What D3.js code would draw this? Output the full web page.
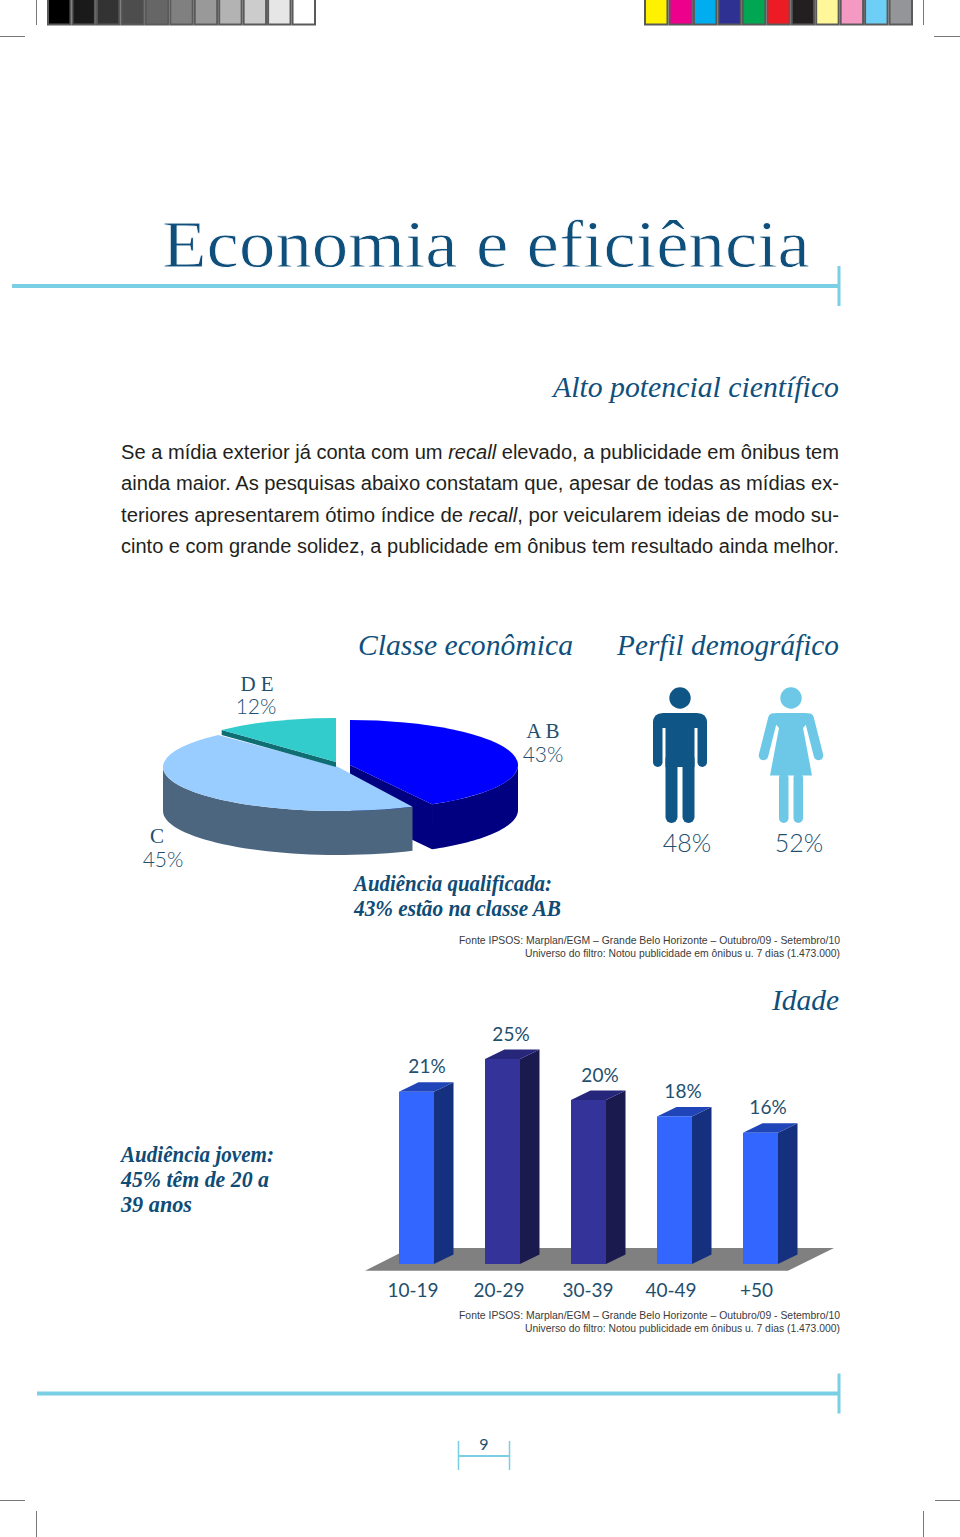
<!DOCTYPE html>
<html lang="pt">
<head>
<meta charset="utf-8">
<title>Economia e eficiência</title>
<script src="https://cdn.jsdelivr.net/npm/d3@7/dist/d3.min.js"></script>
<style>
html,body{margin:0;padding:0;background:#fff}
svg{display:block}
</style>
</head>
<body>
<svg id="chart" width="960" height="1537" viewBox="0 0 960 1537"></svg>
<script>
// ---- data ----
const pieCategories = ["A B", "C", "D E"];
const pieValues = [43, 45, 12];
const genderLabels = ["Masculino", "Feminino"];
const genderValues = [48, 52];
const ageCategories = ["10-19", "20-29", "30-39", "40-49", "+50"];
const ageValues = [21, 25, 20, 18, 16];
const grayBar = ["#000000","#1a1a1a","#333333","#4d4d4d","#666666","#808080","#999999","#b3b3b3","#cccccc","#e6e6e6","#ffffff"];
const colorBar = ["#fff200","#ec008c","#00aeef","#2e3192","#00a651","#ed1c24","#231f20","#fff799","#f49ac2","#6dcff6","#939598"];

const INK = "#0f4f7c", SOFT = "#234f6e", RULE = "#7bcfe4";
const svg = d3.select("#chart");
const SERIF = "'Liberation Serif', serif", SANS = "'Liberation Sans', Arial, sans-serif", HUMAN = "Lato, sans-serif";

function label(str, x, y, o = {}) {
  const t = svg.append("text").attr("x", x).attr("y", y)
    .attr("font-family", o.family || SERIF).attr("font-size", o.size || 20)
    .attr("fill", o.fill || INK).attr("text-anchor", o.anchor || "start");
  if (o.style) t.attr("font-style", o.style);
  if (o.weight) t.attr("font-weight", o.weight);
  if (o.width) t.attr("textLength", o.width).attr("lengthAdjust", "spacingAndGlyphs");
  if (o.thin) t.attr("stroke", "#fff").attr("stroke-width", o.thin);
  t.text(str);
  return t;
}

// ---- printer marks ----
function swatches(values, x0, x1) {
  const b = d3.scaleBand().domain(d3.range(values.length)).range([x0, x1]);
  svg.append("g").selectAll("rect").data(values).join("rect")
    .attr("x", (d, i) => b(i) + 1).attr("y", -2)
    .attr("width", b.bandwidth() - 2).attr("height", 26.5)
    .attr("fill", d => d).attr("stroke", "#5a5a5a").attr("stroke-width", 2);
}
swatches(grayBar, 47, 316);
swatches(colorBar, 644, 913);
[[36.5,0,36.5,25],[0,36.5,25,36.5],[923.5,0,923.5,25],[934,36.5,960,36.5],
 [0,1500.5,25,1500.5],[935,1500.5,960,1500.5],[36.5,1511,36.5,1537],[923.5,1511,923.5,1537]]
 .forEach(l => svg.append("line").attr("x1",l[0]).attr("y1",l[1]).attr("x2",l[2]).attr("y2",l[3]).attr("stroke","#777").attr("stroke-width",1));

// ---- rules ----
function rule(x0, y) {
  svg.append("rect").attr("x", x0).attr("y", y - 2).attr("width", 838 - x0).attr("height", 4).attr("fill", RULE);
  svg.append("rect").attr("x", 837.5).attr("y", y - 20).attr("width", 3).attr("height", 40).attr("fill", RULE);
}
rule(12, 286);
rule(37, 1393.5);

// ---- headings and copy ----
label("Economia e eficiência", 162, 267, {size: 68, width: 648, fill: INK, thin: 0.8});
label("Alto potencial científico", 553, 397, {size: 30, style: "italic", width: 286});
label("Classe econômica", 358, 655, {size: 30, style: "italic", width: 215});
label("Perfil demográfico", 617, 655, {size: 30, style: "italic", width: 222});
label("Idade", 772, 1010, {size: 30, style: "italic", width: 67});

const bodyLines = [
  {y: 459, parts: [["Se a mídia exterior já conta com um ",0],["recall",1],[" elevado, a publicidade em ônibus tem",0]]},
  {y: 490, parts: [["ainda maior. As pesquisas abaixo constatam que, apesar de todas as mídias ex-",0]]},
  {y: 522, parts: [["teriores apresentarem ótimo índice de ",0],["recall",1],[", por veicularem ideias de modo su-",0]]},
  {y: 553, parts: [["cinto e com grande solidez, a publicidade em ônibus tem resultado ainda melhor.",0]]}
];
bodyLines.forEach(l => {
  const t = svg.append("text").attr("x", 121).attr("y", l.y)
    .attr("font-family", SANS).attr("font-size", 20).attr("fill", "#231f20")
    .attr("textLength", 718).attr("lengthAdjust", "spacingAndGlyphs").style("white-space","pre");
  l.parts.forEach(p => t.append("tspan").attr("font-style", p[1] ? "italic" : null).text(p[0]));
});

// ---- 3D pie ----
const pieSlices = d3.pie().sort(null)(pieValues);
const sliceGeom = [
  {cx: 350, cy: 765, rx: 168, ry: 45, depth: 45, fill: "#0000ff", wall: "#000080", skew: 0.974},
  {cx: 338, cy: 767, rx: 175, ry: 44, depth: 44, fill: "#99ccff", wall: "#4d6680", skew: 1},
  {cx: 336, cy: 762, rx: 167, ry: 44, depth: 5,  fill: "#33cccc", wall: "#0f6e73", skew: 1}
];
const pieArc = d3.arc().innerRadius(0);
const pt = (g, a, dy = 0) => [g.cx + g.rx * Math.sin(a), g.cy - g.ry * Math.cos(a) + dy];
function drawWall(g, a0, a1) {
  const as = d3.range(0, 41).map(i => a0 + (a1 - a0) * i / 40);
  const pts = as.map(a => pt(g, a)).concat(as.slice().reverse().map(a => pt(g, a, g.depth)));
  svg.append("path").attr("d", d3.line()(pts) + "Z").attr("fill", g.wall);
}
function drawFace(g, s) {
  svg.append("path").attr("d", pieArc.outerRadius(g.rx)(s))
    .attr("transform", `translate(${g.cx},${g.cy}) scale(1,${g.ry / g.rx})`).attr("fill", g.fill);
}
// A B: foreshortened slightly, as the 3D view does
{
  const g = sliceGeom[0], s = {...pieSlices[0], endAngle: pieSlices[0].endAngle * g.skew};
  drawWall(g, Math.PI / 2, s.endAngle);
  const tip = pt(g, s.endAngle);
  svg.append("path").attr("d", d3.line()([[g.cx,g.cy],tip,[tip[0],tip[1]+g.depth],[g.cx,g.cy+g.depth]]) + "Z").attr("fill", g.wall);
  drawFace(g, s);
}
// C
{
  const s = pieSlices[1], g = sliceGeom[1];
  drawWall(g, s.startAngle, 3 * Math.PI / 2);
  drawFace(g, s);
}
// D E
{
  const s = pieSlices[2], g = sliceGeom[2];
  const e = pt(g, s.startAngle);
  svg.append("path").attr("d", d3.line()([e,[g.cx,g.cy],[g.cx,g.cy+g.depth],[e[0],e[1]+5]]) + "Z").attr("fill", g.wall);
  drawFace(g, s);
}
const pieLabelPos = [[543,738,543,762],[157,843,163,867],[257,691,256,714]];
pieCategories.forEach((c, i) => {
  const p = pieLabelPos[i];
  label(c, p[0], p[1], {size: 21, anchor: "middle", fill: SOFT});
  label(pieValues[i] + "%", p[2], p[3], {size: 21, anchor: "middle", family: HUMAN, weight: 300, fill: SOFT});
});

// ---- gender pictograms ----
const man = svg.append("g").attr("transform", "translate(680,713)").attr("fill", "#0f5686");
man.append("circle").attr("cy", -15).attr("r", 10.7);
man.append("path").attr("d", "M-27,15V10Q-27,0 -17,0H17Q27,0 27,10V15Z");
[[-27,5,9.5,49,4.7],[17.5,5,9.5,49,4.7],[-14.5,0,29,54,0],[-14.5,40,12,70,6],[2.5,40,12,70,6]]
  .forEach(r => man.append("rect").attr("x",r[0]).attr("y",r[1]).attr("width",r[2]).attr("height",r[3]).attr("rx",r[4]));
const woman = svg.append("g").attr("transform", "translate(791,713)").attr("fill", "#6cc8e6");
woman.append("circle").attr("cy", -15).attr("r", 10.7);
woman.append("path").attr("d", "M-14,0H14Q19,0 21,5L12,15L21,62.5H-21L-12,15L-21,5Q-19,0 -14,0Z");
[-1,1].forEach(k => woman.append("line").attr("x1",k*18).attr("y1",5).attr("x2",k*27.5).attr("y2",42.5)
  .attr("stroke","#6cc8e6").attr("stroke-width",9.5).attr("stroke-linecap","round"));
[[-12,60,9.5,50,4.7],[2.5,60,9.5,50,4.7]].forEach(r => woman.append("rect").attr("x",r[0]).attr("y",r[1]).attr("width",r[2]).attr("height",r[3]).attr("rx",r[4]));
const genderX = d3.scalePoint().domain(genderLabels).range([687, 799]);
genderLabels.forEach((g, i) => label(genderValues[i] + "%", genderX(g), 852, {size: 25, anchor: "middle", family: HUMAN, weight: 300, fill: SOFT}));

// ---- callouts ----
const callout = {size: 24, style: "italic", weight: 700, fill: "#0f4c75"};
label("Audiência qualificada:", 354, 891, {...callout, width: 198});
label("43% estão na classe AB", 354, 916, {...callout, width: 207});
label("Audiência jovem:", 121, 1162, {...callout, width: 153});
label("45% têm de 20 a", 121, 1187, {...callout, width: 148});
label("39 anos", 121, 1212, {...callout, width: 71});

// ---- source notes ----
[[944,957],[1319,1332]].forEach(([a, b]) => {
  label("Fonte IPSOS: Marplan/EGM – Grande Belo Horizonte – Outubro/09 - Setembro/10", 459, a, {family: SANS, size: 11, fill: "#3a3a3a", width: 381});
  label("Universo do filtro: Notou publicidade em ônibus u. 7 dias (1.473.000)", 525, b, {family: SANS, size: 11, fill: "#3a3a3a", width: 315});
});

// ---- 3D bars ----
const x = d3.scaleBand().domain(ageCategories).range([399, 778]).paddingInner(1 - 35 / 86);
const y = d3.scaleLinear().domain([0, 25]).range([1264, 1059]);
const bw = x.bandwidth(), dx = 19.5, dy = -9.5;
const barSkin = {light: {front: "#3366ff", side: "#15307f", face: "#2045b8"}, dark: {front: "#333399", side: "#1a1a4f", face: "#26267a"}};
const barTone = ["light", "dark", "dark", "light", "light"];
const valueNudge = [10.5, 8.5, 11.5, 8.5, 7.5];
svg.append("path").attr("d", d3.line()([[365,1270.7],[788,1270.7],[834,1248],[410,1248]]) + "Z").attr("fill", "#808080");
const bars = svg.append("g").selectAll("g").data(ageCategories).join("g");
bars.append("path").attr("d", (c, i) => {
  const l = x(c) + bw, t = y(ageValues[i]);
  return d3.line()([[l,t],[l+dx,t+dy],[l+dx,y(0)+dy],[l,y(0)]]) + "Z";
}).attr("fill", (c, i) => barSkin[barTone[i]].side);
bars.append("path").attr("d", (c, i) => {
  const l = x(c), t = y(ageValues[i]);
  return d3.line()([[l,t],[l+dx,t+dy],[l+bw+dx,t+dy],[l+bw,t]]) + "Z";
}).attr("fill", (c, i) => barSkin[barTone[i]].face);
bars.append("rect").attr("x", c => x(c)).attr("width", bw)
  .attr("y", (c, i) => y(ageValues[i])).attr("height", (c, i) => y(0) - y(ageValues[i]))
  .attr("fill", (c, i) => barSkin[barTone[i]].front);
bars.append("text").attr("x", (c, i) => x(c) + bw / 2 + valueNudge[i]).attr("y", (c, i) => y(ageValues[i]) - 18.5)
  .attr("text-anchor", "middle").attr("font-family", HUMAN).attr("font-size", 19).attr("fill", SOFT)
  .text((c, i) => ageValues[i] + "%");

const tickNudge = [-3.5, -3.5, -0.5, -3.5, -4];
const axis = svg.append("g").attr("transform", `translate(0,${y(0)})`)
  .call(d3.axisBottom(x).tickSize(0).tickPadding(20));
axis.select(".domain").remove();
axis.selectAll("text").attr("font-family", HUMAN).attr("font-size", 19).attr("fill", SOFT)
  .attr("dx", (d, i) => tickNudge[i]);

// ---- folio ----
[458.5, 509.5].forEach(px => svg.append("rect").attr("x", px - 0.75).attr("y", 1441).attr("width", 1.5).attr("height", 29).attr("fill", RULE));
svg.append("rect").attr("x", 459).attr("y", 1455).attr("width", 50).attr("height", 2).attr("fill", RULE);
label("9", 484, 1450, {family: HUMAN, size: 16, anchor: "middle", fill: SOFT});
</script>
</body>
</html>
